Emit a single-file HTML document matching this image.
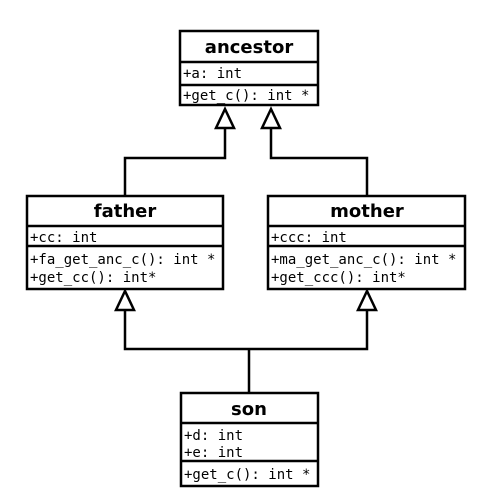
<html><head><style>body{margin:0;background:#fff}</style></head><body>
<svg width="497" height="496" xmlns="http://www.w3.org/2000/svg" fill="none" stroke="#000" stroke-width="2.5">
<path d="M225 128V158H125V196M271 128V158H367V196M125 310V349H367V310M249 349V393"/>
<path d="M225 109L216 128H234Z M271 109L262 128H280Z M125 291L116 310H134Z M367 291L358 310H376Z" fill="#fff"/>
<rect x="180" y="31" width="138" height="74"/><path d="M180 62H318M180 85H318"/>
<rect x="27" y="196" width="196" height="93"/><path d="M27 226H223M27 246H223"/>
<rect x="268" y="196" width="197" height="93"/><path d="M268 226H465M268 246H465"/>
<rect x="181" y="393" width="137" height="93"/><path d="M181 423H318M181 461H318"/>
<g stroke="none" fill="#000" font-family="DejaVu Sans Mono, Liberation Mono, monospace" font-size="14">
<g font-family="DejaVu Sans, Liberation Sans, sans-serif" font-weight="bold" font-size="18" text-anchor="middle">
<text x="249" y="53">ancestor</text>
<text x="125" y="217">father</text>
<text x="367" y="217">mother</text>
<text x="249" y="415">son</text>
</g>
<text x="183" y="78">+a: int</text><text x="183" y="100">+get_c(): int *</text>
<text x="30" y="242">+cc: int</text><text x="30" y="264">+fa_get_anc_c(): int *</text><text x="30" y="282">+get_cc(): int*</text>
<text x="271" y="242">+ccc: int</text><text x="271" y="264">+ma_get_anc_c(): int *</text><text x="271" y="282">+get_ccc(): int*</text>
<text x="184" y="440">+d: int</text><text x="184" y="457">+e: int</text><text x="184" y="479">+get_c(): int *</text>
</g></svg></body></html>
